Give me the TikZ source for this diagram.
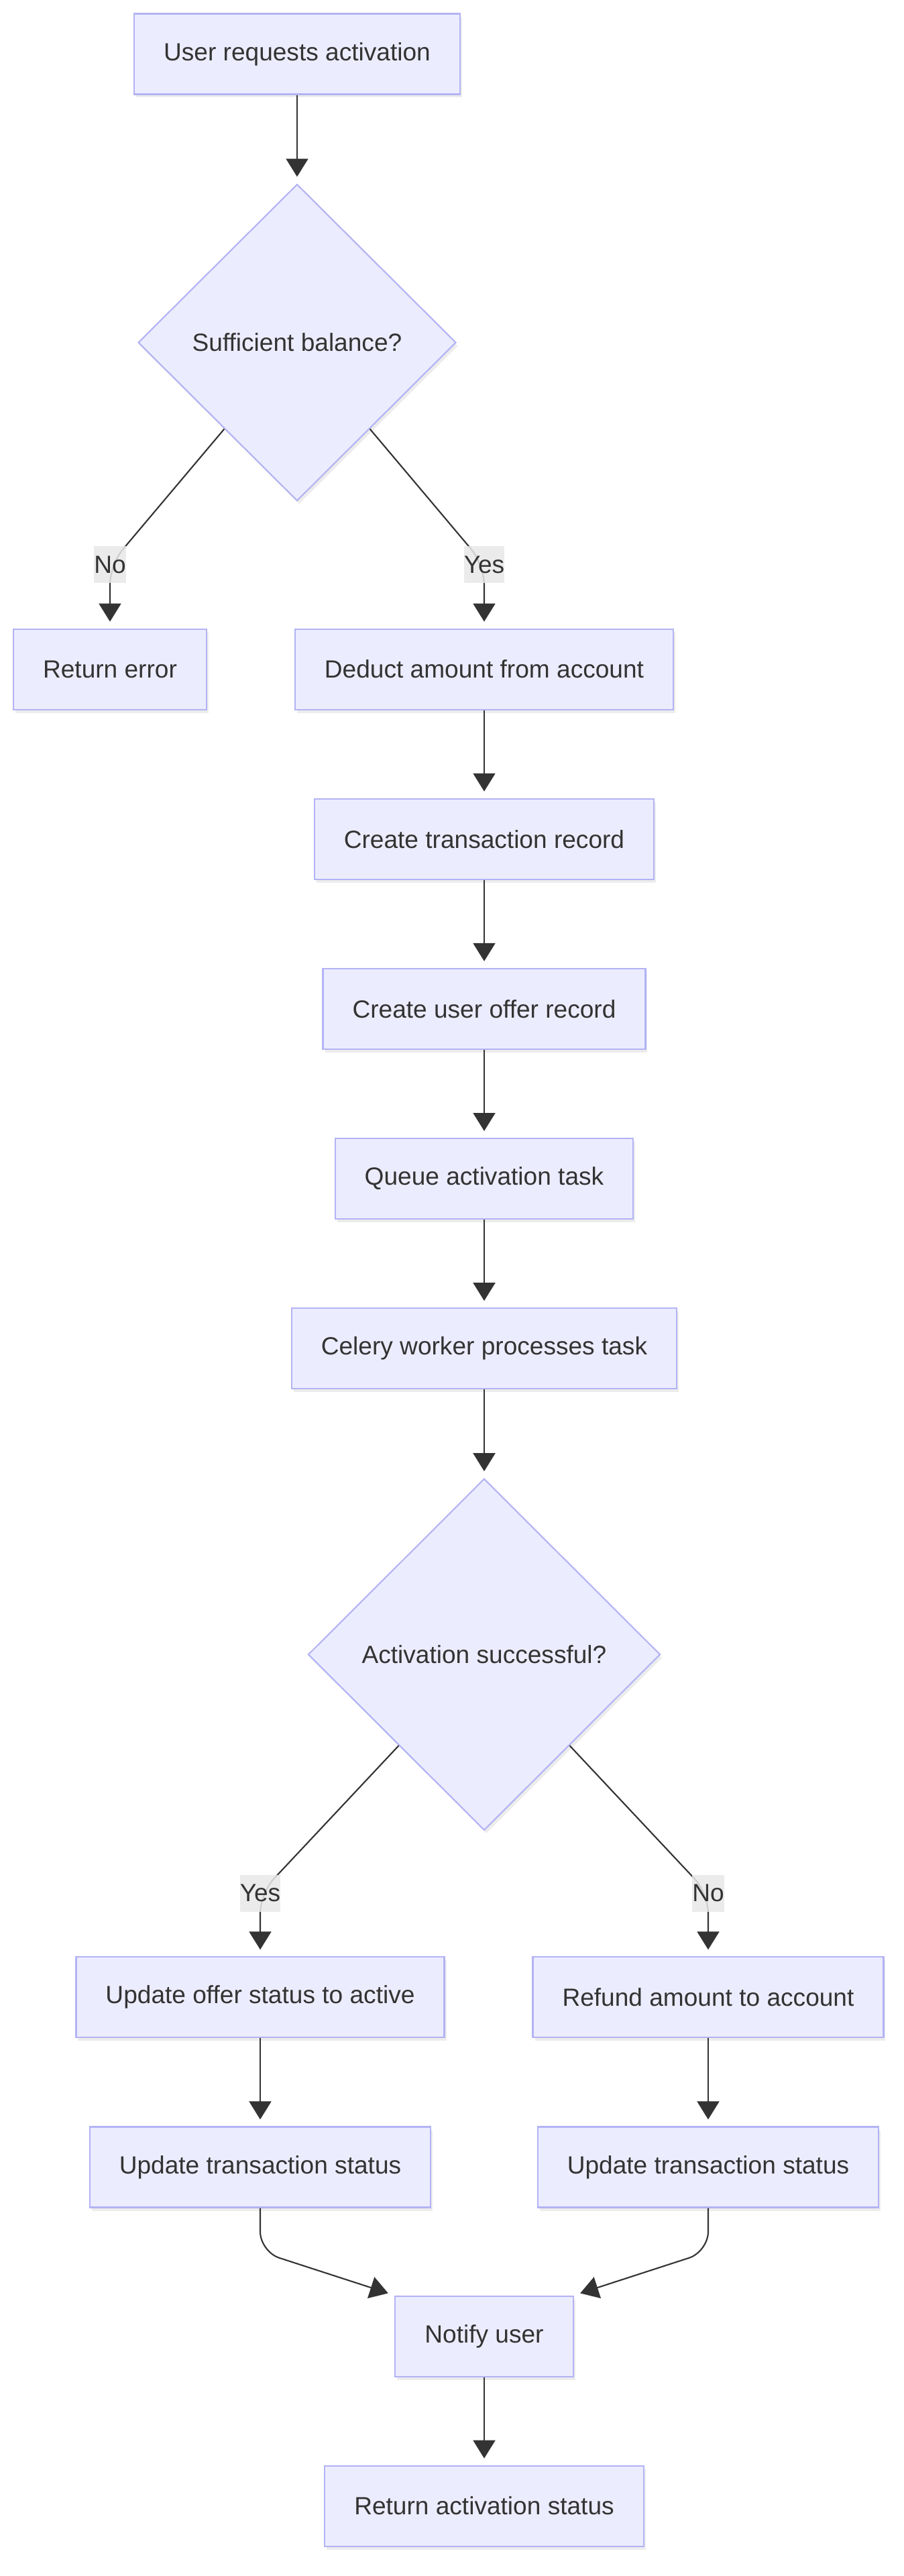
\documentclass[tikz,border=0pt]{standalone}
\usepackage{fontspec}
\setmainfont{Liberation Sans}
\usepackage{xcolor}
\usepackage{tikz}
\usetikzlibrary{arrows.meta,positioning,shapes.geometric,shadows,calc}

\definecolor{nodefill}{HTML}{ECECFF}
\definecolor{nodeline}{HTML}{B3B3F5}
\definecolor{ink}{HTML}{333333}
\definecolor{lblfill}{HTML}{E8E8E8}

\begin{document}
\begin{tikzpicture}[
  node distance=1.31cm,
  every node/.style={font=\fontsize{10.55pt}{12.7pt}\selectfont,text=ink,align=center},
  stepbox/.style={draw=nodeline,fill=nodefill,line width=0.6pt,minimum height=1.2cm,inner xsep=0.44cm,
    drop shadow={shadow xshift=0.03cm,shadow yshift=-0.05cm,opacity=0.15}},
  decision/.style={diamond,draw=nodeline,fill=nodefill,line width=0.6pt,inner sep=0pt,
    drop shadow={shadow xshift=0.03cm,shadow yshift=-0.05cm,opacity=0.15}},
  edgelbl/.style={fill=lblfill,fill opacity=0.85,text opacity=1,inner xsep=0pt,inner ysep=0pt,minimum height=0.55cm},
  arrow/.style={-{Triangle[length=0.27cm,width=0.33cm]},draw=ink,line width=0.6pt,shorten >=0.1cm},
  merge/.style={arrow,rounded corners=0.3cm}
]
\useasboundingbox (0,0) rectangle (13.47,-38.40);

\node[stepbox] (req) at (4.43,-0.805) {User requests activation};
\node[decision,minimum width=4.74cm,minimum height=4.72cm,below=1.32cm of req] (balance) {Sufficient balance?};
\node[stepbox,below=1.89cm of balance,xshift=-2.79cm] (reterr) {Return error};
\node[stepbox,below=1.89cm of balance,xshift=2.79cm] (deduct) {Deduct amount from account};
\node[stepbox,below=of deduct] (mktx) {Create transaction record};
\node[stepbox,below=of mktx] (mkoffer) {Create user offer record};
\node[stepbox,below=of mkoffer] (queue) {Queue activation task};
\node[stepbox,below=of queue] (celery) {Celery worker processes task};
\node[decision,minimum width=5.25cm,minimum height=5.24cm,below=1.32cm of celery] (actok) {Activation successful?};
\node[stepbox,below=1.87cm of actok,xshift=-3.34cm] (offeron) {Update offer status to active};
\node[stepbox,below=1.87cm of actok,xshift=3.34cm] (refund) {Refund amount to account};
\node[stepbox,below=of offeron] (updtxl) {Update transaction status};
\node[stepbox,below=of refund] (updtxr) {Update transaction status};
\coordinate (mid) at ($(updtxl.south)!0.5!(updtxr.south)$);
\node[stepbox,below=1.30cm of mid] (notify) {Notify user};
\node[stepbox,below=of notify] (retstat) {Return activation status};

% bends under the decisions and above notify
\coordinate (nobend) at ($(reterr.north)+(0,0.95)$);
\coordinate (yesbend) at ($(deduct.north)+(0,0.95)$);
\coordinate (yesbendb) at ($(offeron.north)+(0,0.94)$);
\coordinate (nobendb) at ($(refund.north)+(0,0.94)$);
\coordinate (lbend) at ($(updtxl.south)+(0,-0.65)$);
\coordinate (rbend) at ($(updtxr.south)+(0,-0.65)$);

\draw[arrow] (req) -- (balance);
\draw[merge] (balance) -- (nobend) -- (reterr);
\draw[merge] (balance) -- (yesbend) -- (deduct);
\draw[arrow] (deduct) -- (mktx);
\draw[arrow] (mktx) -- (mkoffer);
\draw[arrow] (mkoffer) -- (queue);
\draw[arrow] (queue) -- (celery);
\draw[arrow] (celery) -- (actok);
\draw[merge] (actok) -- (yesbendb) -- (offeron);
\draw[merge] (actok) -- (nobendb) -- (refund);
\draw[arrow] (offeron) -- (updtxl);
\draw[arrow] (refund) -- (updtxr);
\draw[merge] (updtxl) -- (lbend) -- (notify.north west);
\draw[merge] (updtxr) -- (rbend) -- (notify.north east);
\draw[arrow] (notify) -- (retstat);

\node[edgelbl] (lblno) at (nobend) {No};
\node[edgelbl] (lblyes) at (yesbend) {Yes};
\node[edgelbl] (lblyesb) at (yesbendb) {Yes};
\node[edgelbl] (lblnob) at (nobendb) {No};
\end{tikzpicture}
\end{document}
